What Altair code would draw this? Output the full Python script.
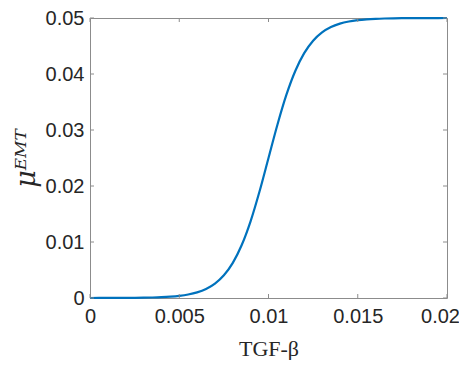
import altair as alt
import pandas as pd

# TGF-beta values (x) and mu^EMT values (y)
tgf = [0.0, 0.0005, 0.001, 0.0015, 0.002, 0.0025, 0.003, 0.0035, 0.004, 0.0045,
       0.005, 0.0055, 0.006, 0.0065, 0.007, 0.0075, 0.008, 0.0085, 0.009, 0.0095,
       0.01, 0.0105, 0.011, 0.0115, 0.012, 0.0125, 0.013, 0.0135, 0.014, 0.0145,
       0.015, 0.0155, 0.016, 0.0165, 0.017, 0.0175, 0.018, 0.0185, 0.019, 0.0195,
       0.02]
mu_emt = [0.000003, 0.000005, 0.000008, 0.000013, 0.000021, 0.000035, 0.000056,
          0.000091, 0.000148, 0.000240, 0.000388, 0.000628, 0.001012, 0.001623,
          0.002583, 0.004065, 0.006282, 0.009462, 0.013744, 0.019055, 0.025000,
          0.030945, 0.036256, 0.040538, 0.043718, 0.045935, 0.047417, 0.048377,
          0.048988, 0.049372, 0.049612, 0.049760, 0.049852, 0.049909, 0.049944,
          0.049965, 0.049979, 0.049987, 0.049992, 0.049995, 0.049997]

x_ticks = [0.0, 0.005, 0.01, 0.015, 0.02]
y_ticks = [0.0, 0.01, 0.02, 0.03, 0.04, 0.05]

W, H = 357, 280
TICK = 4
axis_gray = "#262626"
box_gray = "#8c8c8c"

df = pd.DataFrame({"x": tgf, "y": mu_emt})
xt = pd.DataFrame({"x": x_ticks})
yt = pd.DataFrame({"y": y_ticks})

xscale = alt.Scale(domain=[0, 0.02], nice=False, zero=False)
yscale = alt.Scale(domain=[0, 0.05], nice=False, zero=False)

x_axis = alt.Axis(values=x_ticks, format="~g", title="TGF-β",
                  grid=False, domain=False, ticks=False,
                  labelFont="Liberation Sans", labelFontSize=20, labelColor=axis_gray,
                  labelPadding=8, labelFlush=False, labelOverlap=False,
                  labelOffset={"condition": {"test": "datum.value >= 0.0199", "value": -7},
                               "value": 0},
                  titleFont="Liberation Serif", titleFontSize=22, titleFontWeight="normal",
                  titleColor=axis_gray, titleBaseline="alphabetic", titleY=57)
y_axis = alt.Axis(values=y_ticks, format="~g", title="μᴱᴹᵀ",
                  grid=False, domain=False, ticks=False,
                  labelFont="Liberation Sans", labelFontSize=20, labelColor=axis_gray,
                  labelPadding=6, labelFlush=False, labelOverlap=False,
                  titleFont="DejaVu Serif", titleFontSize=27, titleFontWeight="normal",
                  titleFontStyle="italic", titleColor=axis_gray,
                  titleBaseline="alphabetic", titleAngle=270, titleX=-56, titleY=140)

line = alt.Chart(df).mark_line(color="#0072BD", strokeWidth=2.2, interpolate="monotone").encode(
    x=alt.X("x:Q", scale=xscale, axis=x_axis),
    y=alt.Y("y:Q", scale=yscale, axis=y_axis),
)

bottom_ticks = alt.Chart(xt).mark_rule(color=box_gray, strokeWidth=1).encode(
    x=alt.X("x:Q", scale=xscale, axis=x_axis), y=alt.value(H), y2=alt.value(H - TICK))
top_ticks = alt.Chart(xt).mark_rule(color=box_gray, strokeWidth=1).encode(
    x=alt.X("x:Q", scale=xscale, axis=x_axis), y=alt.value(0), y2=alt.value(TICK))
left_ticks = alt.Chart(yt).mark_rule(color=box_gray, strokeWidth=1).encode(
    y=alt.Y("y:Q", scale=yscale, axis=y_axis), x=alt.value(0), x2=alt.value(TICK))
right_ticks = alt.Chart(yt).mark_rule(color=box_gray, strokeWidth=1).encode(
    y=alt.Y("y:Q", scale=yscale, axis=y_axis), x=alt.value(W), x2=alt.value(W - TICK))

chart = alt.layer(line, bottom_ticks, top_ticks, left_ticks, right_ticks).properties(
    width=W, height=H,
    autosize=alt.AutoSizeParams(type="none"),
    padding={"left": 82, "top": 10, "right": 12, "bottom": 62},
).configure_view(stroke=box_gray, strokeWidth=1)

chart.save("out.html", embed_options={"renderer": "svg", "actions": False})
